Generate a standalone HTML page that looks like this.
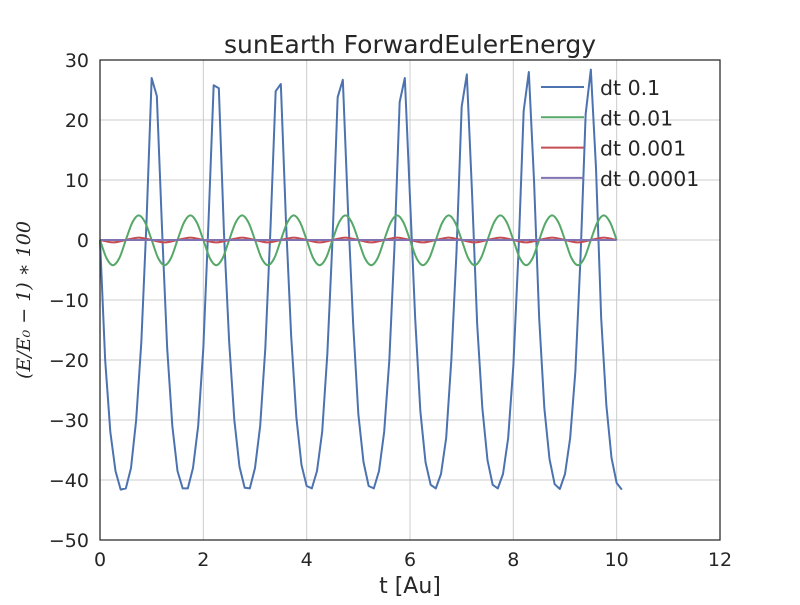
<!DOCTYPE html>
<html><head><meta charset="utf-8"><style>
body{margin:0;background:#fff}
svg text{font-family:"DejaVu Sans","Liberation Sans",sans-serif;fill:#262626}
</style></head><body>
<svg id="c" width="800" height="600">
<rect width="800" height="600" fill="#fff"/>
<g id="grid"></g>
<g id="series"></g>
<rect x="100" y="60" width="620" height="480" fill="none" stroke="#262626" stroke-width="1.25"/>
<g id="ticks"></g>
<text x="410" y="53" font-size="25" text-anchor="middle">sunEarth ForwardEulerEnergy</text>
<text x="410" y="593" font-size="22" text-anchor="middle">t [Au]</text>
<text transform="translate(30,300) rotate(-90)" font-size="19" text-anchor="middle" style="font-family:'DejaVu Serif',serif;font-style:italic">(E/E₀ − 1) ∗ 100</text>
<g id="legend"></g>
</svg>
<script>
const blueT0=0, blueDt=0.1;
const blueVals=[0,-20,-32,-38.5,-41.6,-41.4,-38,-30,-17,3,27,24,2,-18,-31,-38.5,-41.4,-41.4,-38,-31,-18,3,25.8,25.3,1,-17,-30,-37.8,-41.3,-41.4,-38,-31,-18,2,24.8,26,3,-16,-29.5,-37.5,-41,-41.4,-38.5,-32,-19,0,23.8,26.7,5,-14,-29,-37,-41,-41.4,-38.5,-32,-20,-1,23,27,7,-13,-28.5,-37,-40.8,-41.4,-39,-33,-20,-2,22.2,27.6,8,-14,-28,-36.7,-40.8,-41.4,-39,-33,-21,-2,21.5,28,10,-13,-28,-36.5,-40.7,-41.5,-39,-33,-22,-3,21,28.4,12,-13,-27.5,-36.3,-40.5,-41.6];
const greenDt=0.125;
const greenVals=[0,-3,-4.2,-3,0,2.9,4.1,2.9,0,-3,-4.2,-3,0,2.9,4.1,2.9,0,-3,-4.2,-3,0,2.9,4.1,2.9,0,-3,-4.2,-3,0,2.9,4.1,2.9,0,-3,-4.2,-3,0,2.9,4.1,2.9,0,-3,-4.2,-3,0,2.9,4.1,2.9,0,-3,-4.2,-3,0,2.9,4.1,2.9,0,-3,-4.2,-3,0,2.9,4.1,2.9,0,-3,-4.2,-3,0,2.9,4.1,2.9,0,-3,-4.2,-3,0,2.9,4.1,2.9,0];
const redDt=0.25;
const redVals=[0,-0.4,0,0.4,0,-0.4,0,0.4,0,-0.4,0,0.4,0,-0.4,0,0.4,0,-0.4,0,0.4,0,-0.4,0,0.4,0,-0.4,0,0.4,0,-0.4,0,0.4,0,-0.4,0,0.4,0,-0.4,0,0.4,0];
const purpleDt=1;
const purpleVals=[0,0,0,0,0,0,0,0,0,0,0];
const xTicks=[0,2,4,6,8,10,12];
const yTicks=[30,20,10,0,-10,-20,-30,-40,-50];
const legendLabels=["dt 0.1","dt 0.01","dt 0.001","dt 0.0001"];
const colors=["#4c72b0","#55a868","#c44e52","#8172b2"];
const NS="http://www.w3.org/2000/svg";
const X=v=>100+v/12*620, Y=v=>60+(30-v)/80*480;
function mk(t,a,p){const e=document.createElementNS(NS,t);for(const k in a)e.setAttribute(k,a[k]);p.appendChild(e);return e;}
const grid=document.getElementById('grid'),ticks=document.getElementById('ticks');
xTicks.forEach(v=>{const l=mk('line',{x1:X(v),x2:X(v),y1:60,y2:540,stroke:'#cccccc','stroke-width':1},grid);

const t=mk('text',{x:X(v),y:566,'font-size':19,'text-anchor':'middle'},ticks);t.textContent=v;
});
yTicks.forEach(v=>{const l=mk('line',{x1:100,x2:720,y1:Y(v),y2:Y(v),stroke:'#cccccc','stroke-width':1},grid);

const t=mk('text',{x:89,y:Y(v)+7,'font-size':19,'text-anchor':'end'},ticks);t.textContent=(v<0?'\u2212'+(-v):v);
});
const ser=document.getElementById('series');
function line(vals,dt,col,name,smooth){
 const p=vals.map((v,i)=>[X(i*dt),Y(v)]);let d='M'+p[0];
 if(!smooth){for(let i=1;i<p.length;i++)d+='L'+p[i];}
 else{for(let i=0;i<p.length-1;i++){const a=p[Math.max(0,i-1)],b=p[i],c=p[i+1],e=p[Math.min(p.length-1,i+2)];
 d+='C'+[b[0]+(c[0]-a[0])/6,b[1]+(c[1]-a[1])/6]+' '+[c[0]-(e[0]-b[0])/6,c[1]-(e[1]-b[1])/6]+' '+c;}}
 const el=mk('path',{d:d,fill:'none',stroke:col,'stroke-width':2,'stroke-linejoin':'round'},ser);
 }
line(blueVals,blueDt,colors[0],'series-dt-0.1',false);
line(greenVals,greenDt,colors[1],'series-dt-0.01',true);
line(redVals,redDt,colors[2],'series-dt-0.001',true);
line(purpleVals,purpleDt,colors[3],'series-dt-0.0001',false);
const lg=document.getElementById('legend');
legendLabels.forEach((s,i)=>{const y=87+i*30.3;
 const g=mk('g',{},lg);
 mk('line',{x1:541,x2:584,y1:y,y2:y,stroke:colors[i],'stroke-width':2},g);
 const t=mk('text',{x:600,y:y+8,'font-size':20.5},g);t.textContent=s;});
</script>
</body></html>
